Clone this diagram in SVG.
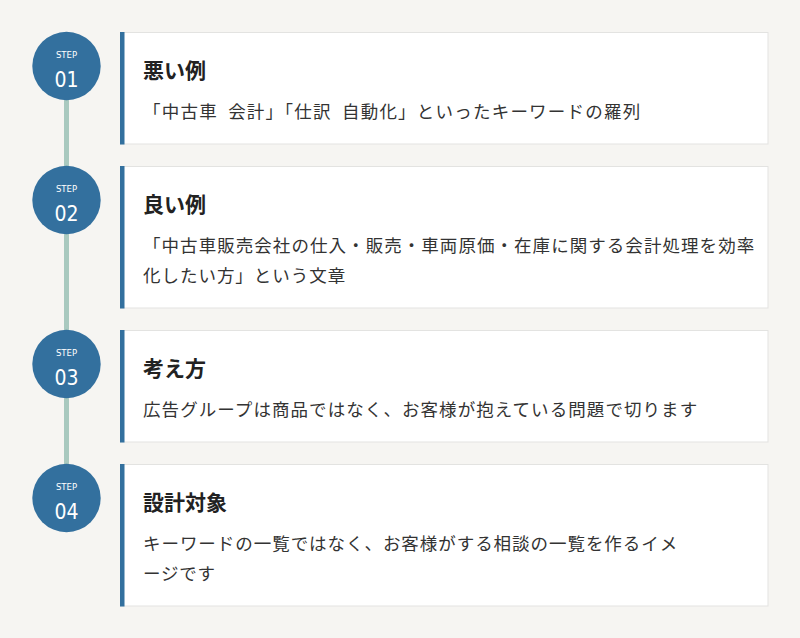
<svg xmlns="http://www.w3.org/2000/svg" width="800" height="638" viewBox="0 0 800 638">
<style>
.bg{fill:#f6f5f2}
.card{fill:#ffffff;stroke:#e3e3e1;stroke-width:1}
.bar{fill:#33709e}
.dot{fill:#33709e}
.rail{stroke:#a9c9bf;stroke-width:5;fill:none}
.step{font-family:"Liberation Sans Narrow","DejaVu Sans Condensed","Liberation Sans",sans-serif;font-stretch:condensed;font-size:9.5px;fill:#ffffff;text-anchor:middle}
.num{font-family:"Liberation Sans Narrow","DejaVu Sans Condensed","Liberation Sans",sans-serif;font-stretch:condensed;font-size:21px;fill:#ffffff;text-anchor:middle}
.title{font-family:"Noto Sans CJK JP","Noto Sans",sans-serif;font-size:21px;font-weight:bold;fill:#222222}
.body{font-family:"Noto Sans CJK JP","Noto Sans",sans-serif;font-size:17.5px;fill:#333333;letter-spacing:0.8px}
</style>
<rect class="bg" x="0" y="0" width="800" height="638"/>
<g id="connectors">
<line class="rail" x1="66.5" y1="66" x2="66.5" y2="498"/>
</g>
<g id="step1">
<rect class="card" x="120.5" y="32.5" width="647.5" height="111.5"/>
<rect class="bar" x="120" y="32" width="4.5" height="112.5"/>
<circle class="dot" cx="66.5" cy="66" r="34.2"/>
<text class="step" x="66.5" y="57.5">STEP</text>
<text class="num" x="66.5" y="86.5">01</text>
<text class="title" x="143" y="77.5">悪い例</text>
<text class="body" x="143" y="118" textLength="498" lengthAdjust="spacing" xml:space="preserve">「中古車  会計」「仕訳  自動化」といったキーワードの羅列</text>
</g>
<g id="step2">
<rect class="card" x="120.5" y="166.5" width="647.5" height="141.5"/>
<rect class="bar" x="120" y="166" width="4.5" height="142.5"/>
<circle class="dot" cx="66.5" cy="200" r="34.2"/>
<text class="step" x="66.5" y="191.5">STEP</text>
<text class="num" x="66.5" y="220.5">02</text>
<text class="title" x="143" y="211.5">良い例</text>
<text class="body" x="143" y="252" textLength="612" lengthAdjust="spacing">「中古車販売会社の仕入・販売・車両原価・在庫に関する会計処理を効率</text>
<text class="body" x="143" y="282" textLength="203" lengthAdjust="spacing">化したい方」という文章</text>
</g>
<g id="step3">
<rect class="card" x="120.5" y="330.5" width="647.5" height="111.5"/>
<rect class="bar" x="120" y="330" width="4.5" height="112.5"/>
<circle class="dot" cx="66.5" cy="364" r="34.2"/>
<text class="step" x="66.5" y="355.5">STEP</text>
<text class="num" x="66.5" y="384.5">03</text>
<text class="title" x="143" y="375.5">考え方</text>
<text class="body" x="143" y="416" textLength="555" lengthAdjust="spacing">広告グループは商品ではなく、お客様が抱えている問題で切ります</text>
</g>
<g id="step4">
<rect class="card" x="120.5" y="464.5" width="647.5" height="141.5"/>
<rect class="bar" x="120" y="464" width="4.5" height="142.5"/>
<circle class="dot" cx="66.5" cy="498" r="34.2"/>
<text class="step" x="66.5" y="489.5">STEP</text>
<text class="num" x="66.5" y="518.5">04</text>
<text class="title" x="143" y="509.5">設計対象</text>
<text class="body" x="143" y="550" textLength="535" lengthAdjust="spacing">キーワードの一覧ではなく、お客様がする相談の一覧を作るイメ</text>
<text class="body" x="143" y="580">ージです</text>
</g>
</svg>
